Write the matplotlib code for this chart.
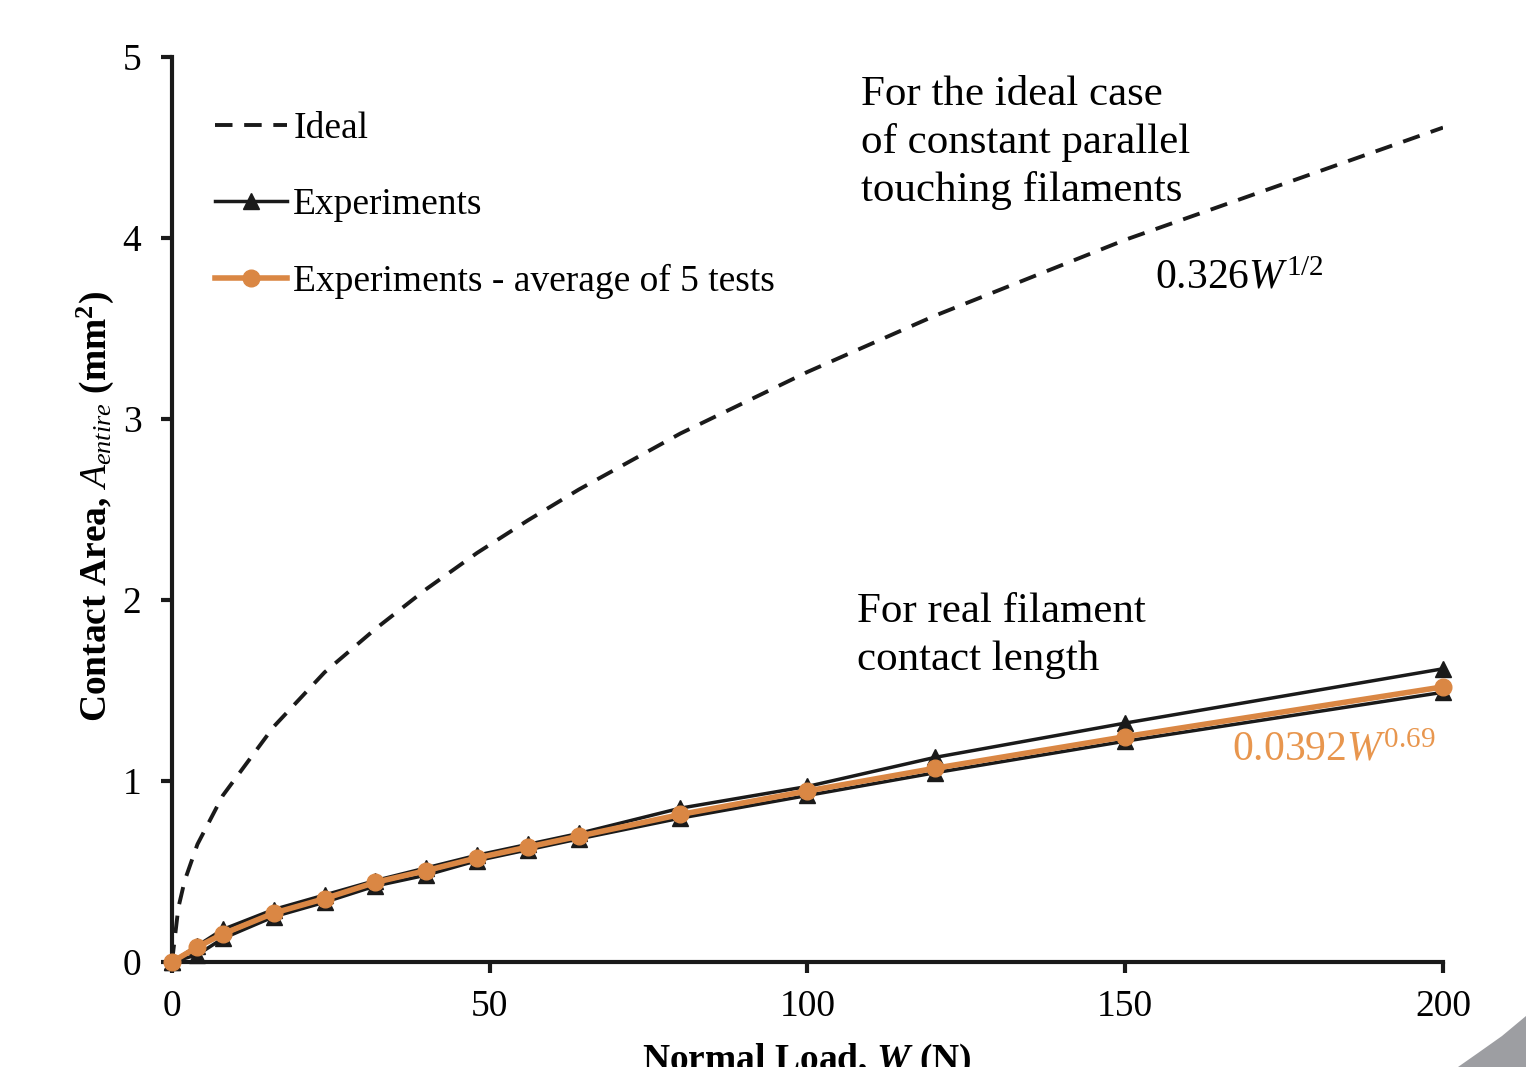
import matplotlib
matplotlib.use("Agg")
import matplotlib.pyplot as plt
from matplotlib.patches import Polygon

# ---------------- data ----------------
load = [0, 4, 8, 16, 24, 32, 40, 48, 56, 64, 80, 100, 120, 150, 200]
exp_upper = [0, 0.09, 0.18, 0.29, 0.37, 0.45, 0.52, 0.59, 0.65, 0.71, 0.85, 0.97, 1.13, 1.32, 1.62]
exp_lower = [0, 0.04, 0.13, 0.25, 0.33, 0.42, 0.48, 0.56, 0.62, 0.68, 0.795, 0.92, 1.045, 1.22, 1.49]
exp_avg = [0, 0.083, 0.155, 0.27, 0.35, 0.44, 0.505, 0.575, 0.635, 0.695, 0.815, 0.945, 1.07, 1.245, 1.52]

ideal_load = [0, 1, 2, 4, 8, 16, 24, 32, 40, 48, 56, 64, 80, 100, 120, 150, 200]
ideal_area = [0, 0.30, 0.45, 0.65, 0.92, 1.30, 1.60, 1.84, 2.06, 2.26, 2.44, 2.61, 2.92, 3.26, 3.57, 3.99, 4.61]

x_ticks = [0, 50, 100, 150, 200]
y_ticks = [0, 1, 2, 3, 4, 5]

ORANGE = '#DA8744'
ORANGE_TXT = '#E8964E'

plt.rcParams['font.family'] = ['Liberation Serif', 'DejaVu Serif']
plt.rcParams['mathtext.fontset'] = 'custom'
plt.rcParams['mathtext.rm'] = 'Liberation Serif'
plt.rcParams['mathtext.it'] = 'Liberation Serif:italic'
plt.rcParams['mathtext.bf'] = 'Liberation Serif:bold'
plt.rcParams['mathtext.bfit'] = 'Liberation Serif:italic:bold'

W, H = 1526, 1067
fig = plt.figure(figsize=(W / 100, H / 100), dpi=100)
ax = fig.add_axes([172 / W, 1 - 962 / H, (1443 - 172) / W, (962 - 57) / H])

ax.plot(ideal_load, ideal_area, color='#1a1a1a', lw=2.8, linestyle=(0, (4.5, 3)),
        label='Ideal', zorder=2)
ax.plot(load, exp_upper, color='#1a1a1a', lw=2.5, marker='^', ms=12,
        label='Experiments', zorder=3, clip_on=False)
ax.plot(load, exp_lower, color='#1a1a1a', lw=2.5, marker='^', ms=12,
        zorder=3, clip_on=False)
ax.plot(load, exp_avg, color=ORANGE, lw=4.0, marker='o', ms=12,
        label='Experiments - average of 5 tests', zorder=4, clip_on=False)

ax.set_xlim(0, 200)
ax.set_ylim(0, 5)
ax.set_xticks(x_ticks)
ax.set_yticks(y_ticks)
for s in ['top', 'right']:
    ax.spines[s].set_visible(False)
for s in ['left', 'bottom']:
    ax.spines[s].set_linewidth(3.0)
    ax.spines[s].set_color('#1a1a1a')
ax.tick_params(axis='both', direction='out', width=3.0, length=8, color='#1a1a1a',
               labelsize=27, labelcolor='black')
ax.tick_params(axis='x', pad=12)
ax.tick_params(axis='y', pad=14)

leg = ax.legend(loc='upper left', bbox_to_anchor=(0.034, 0.94), frameon=False,
                fontsize=27, handlelength=1.92, handletextpad=0.16,
                labelspacing=1.12, borderpad=0, borderaxespad=0)

ax.text(108.4, 4.90, 'For the ideal case\nof constant parallel\ntouching filaments',
        fontsize=31, va='top', ha='left', linespacing=1.3)
ax.text(154.7, 3.78, r'0.326$\mathit{W}^{\mathrm{1/2}}$', fontsize=30, va='center', ha='left')
ax.text(107.8, 2.04, 'For real filament\ncontact length',
        fontsize=31, va='top', ha='left', linespacing=1.3)
ax.text(166.8, 1.17, r'0.0392$\mathit{W}^{\mathrm{0.69}}$', fontsize=30, va='center',
        ha='left', color=ORANGE_TXT)

fig.text(95 / W, 1 - 507 / H,
         r'Contact Area, $\mathit{A}_{\mathit{entire}}$ (mm$^{\mathbf{2}}$)',
         rotation=90, ha='center', va='center', fontsize=27, fontweight='bold')
fig.text(807 / W, 1 - 1042 / H, r'Normal Load, $\mathbfit{W}$ (N)',
         ha='center', va='top', fontsize=27, fontweight='bold')

# grey page decoration in the bottom-right corner
wedge = Polygon([(1458 / W, 0), (1478 / W, 1 - 1053 / H), (1502 / W, 1 - 1036 / H),
                 (1526 / W, 1 - 1016 / H), (1526 / W, 0)],
                closed=True, transform=fig.transFigure, facecolor='#9d9ea2',
                edgecolor='none')
fig.patches.append(wedge)

fig.savefig('out.png', dpi=100)
